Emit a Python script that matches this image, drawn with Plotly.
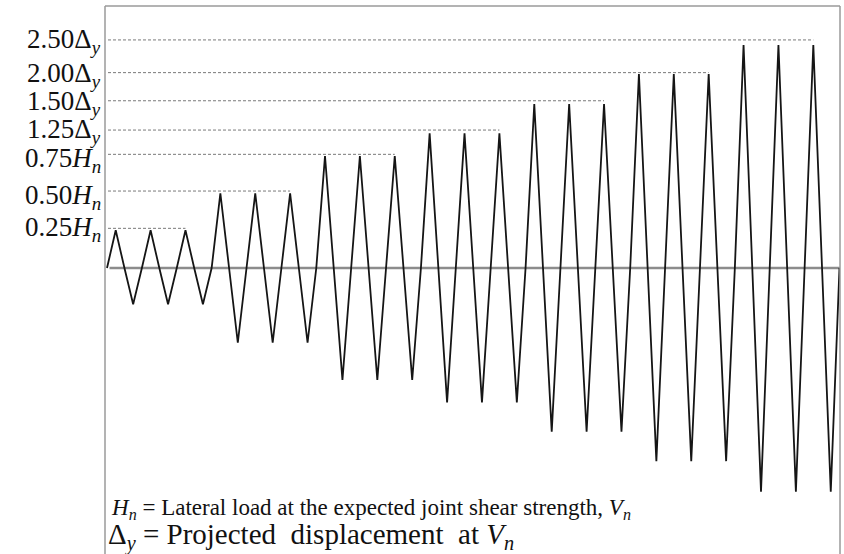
import numpy as np
import plotly.graph_objects as go

# ---- data ----
level_labels = [
    "0.25<i>H</i><sub><i>n</i></sub>",
    "0.50<i>H</i><sub><i>n</i></sub>",
    "0.75<i>H</i><sub><i>n</i></sub>",
    "1.25Δ<sub><i>y</i></sub>",
    "1.50Δ<sub><i>y</i></sub>",
    "2.00Δ<sub><i>y</i></sub>",
    "2.50Δ<sub><i>y</i></sub>",
]
label_levels = [0.268, 0.520, 0.768, 0.932, 1.130, 1.320, 1.541]   # dashed reference levels
peak_amps = [0.255, 0.505, 0.757, 0.910, 1.108, 1.310, 1.507]      # positive peaks
trough_amps = [0.245, 0.505, 0.757, 0.908, 1.106, 1.305, 1.511]    # negative peaks
cycles_per_level = 3
footnote_1 = "<i>H</i><sub><i>n</i></sub> = Lateral load at the expected joint shear strength, <i>V</i><sub><i>n</i></sub>"
footnote_2 = "Δ<sub><i>y</i></sub> = Projected  displacement  at <i>V</i><sub><i>n</i></sub>"

# ---- build loading history ----
t, v = [], []
step = 0
for k in range(len(peak_amps)):
    for c in range(cycles_per_level):
        t += [step, step + 1, step + 2, step + 3]
        v += [0, peak_amps[k], 0, -trough_amps[k]]
        step += 4
t.append(step)
v.append(0)

FONT = "Liberation Serif"
W, H = 844, 554
ml, mr, mt, mb = 105, 4, 6, 0
pw, ph = W - ml - mr, H - mt - mb

px_per_t = 8.72
px_per_u = 148.0
x0_px = 107
zero_px = 268
xr = [(ml - x0_px) / px_per_t, (ml + pw - x0_px) / px_per_t]
yr = [-(H - zero_px) / px_per_u, (zero_px - mt) / px_per_u]

fig = go.Figure()

# zero axis line
fig.add_trace(go.Scatter(x=[(109.5 - x0_px) / px_per_t, xr[1]], y=[0, 0], mode="lines",
                         line=dict(color="#8c8c8c", width=2.6), hoverinfo="skip", showlegend=False))

# dashed reference lines
for k, lv in enumerate(label_levels):
    last_peak_t = 4 * (cycles_per_level * k + cycles_per_level - 1) + 1
    fig.add_trace(go.Scatter(x=[(108 - x0_px) / px_per_t, last_peak_t], y=[lv, lv], mode="lines",
                             line=dict(color="#7a7a7a", width=1, dash="3px,2px"),
                             hoverinfo="skip", showlegend=False))

# loading history
fig.add_trace(go.Scatter(x=t, y=v, mode="lines", line=dict(color="#151515", width=1.8),
                         hoverinfo="skip", showlegend=False))

annotations = []
yshifts = [-1, -6, -6, -1, -2, -2, -1]
for lab, lv, ys in zip(level_labels, label_levels, yshifts):
    annotations.append(dict(x=(103 - ml) / pw, xref="paper", y=lv, yref="y", yshift=ys,
                            text=lab, showarrow=False, xanchor="right", yanchor="middle",
                            font=dict(family=FONT, size=27, color="#111")))

annotations.append(dict(x=(109 - ml) / pw, xref="paper", y=(H - 525) / ph, yref="paper",
                        text=footnote_1, showarrow=False, xanchor="left", yanchor="bottom",
                        font=dict(family=FONT, size=23, color="#111")))
annotations.append(dict(x=(106 - ml) / pw, xref="paper", y=(H - 557) / ph, yref="paper",
                        text=footnote_2, showarrow=False, xanchor="left", yanchor="bottom",
                        font=dict(family=FONT, size=29, color="#111")))

box_col = "#9a9a9a"
shapes = [
    dict(type="line", xref="paper", yref="paper", x0=0, x1=0, y0=0, y1=1, line=dict(color=box_col, width=1.5)),
    dict(type="line", xref="paper", yref="paper", x0=0, x1=1, y0=1, y1=1, line=dict(color=box_col, width=1.5)),
    dict(type="line", xref="paper", yref="paper", x0=1, x1=1, y0=0, y1=1, line=dict(color=box_col, width=1.5)),
]

fig.update_layout(
    width=W, height=H,
    margin=dict(l=ml, r=mr, t=mt, b=mb),
    paper_bgcolor="white", plot_bgcolor="white",
    xaxis=dict(range=xr, visible=False, fixedrange=True),
    yaxis=dict(range=yr, visible=False, fixedrange=True),
    annotations=annotations, shapes=shapes,
    showlegend=False,
)

fig.write_html("out.html")
